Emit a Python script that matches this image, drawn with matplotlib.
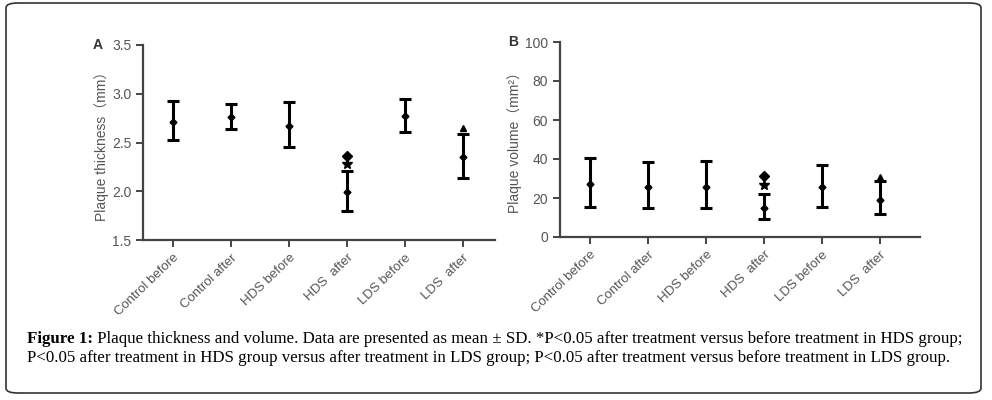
import matplotlib.pyplot as plt
from matplotlib.patches import FancyBboxPatch

groups = ["Control before", "Control after", "HDS before", "HDS  after", "LDS before", "LDS  after"]

# panel A: plaque thickness (mm)
thick_mean = [2.71, 2.76, 2.67, 1.99, 2.77, 2.35]
thick_up = [2.93, 2.90, 2.92, 2.21, 2.95, 2.59]
thick_low = [2.53, 2.64, 2.45, 1.80, 2.61, 2.14]
thick_ticks = [1.5, 2.0, 2.5, 3.0, 3.5]

# panel B: plaque volume (mm2)
vol_mean = [27.0, 25.6, 25.8, 15.0, 25.4, 18.8]
vol_up = [40.5, 38.3, 39.2, 22.0, 36.9, 28.9]
vol_low = [15.2, 14.7, 14.7, 9.2, 15.6, 12.0]
vol_ticks = [0, 20, 40, 60, 80, 100]

# significance marks (group index, y value, marker)
thick_sig = [(3, 2.365, "D"), (3, 2.275, "*"), (5, 2.645, "^")]
vol_sig = [(3, 31.5, "D"), (3, 26.7, "*"), (5, 30.8, "^")]

sans = ["Liberation Sans", "Noto Sans CJK SC"]
tick_col = "#555555"

fig = plt.figure(figsize=(9.92, 4.0), dpi=100)

# rounded frame around the whole figure
frame = FancyBboxPatch((6 / 992, 7 / 400), 975 / 992, 390 / 400,
                       boxstyle="round,pad=0,rounding_size=0.012",
                       transform=fig.transFigure, fill=False,
                       edgecolor="#333333", linewidth=1.2)
fig.patches.append(frame)


def draw_panel(ax, mean, up, low, ticks, sig, ylabel, letter, xright):
    x = list(range(len(groups)))
    yerr = [[m - l for m, l in zip(mean, low)], [u - m for u, m in zip(up, mean)]]
    ax.errorbar(x, mean, yerr=yerr, fmt="D", color="black", markersize=3.5,
                elinewidth=2.2, capsize=4.5, capthick=2.2)
    for i, y, mk in sig:
        size = 7 if mk == "*" else 5
        ax.plot(i, y, marker=mk, color="black", markersize=size, linestyle="none")
    ax.set_xlim(-0.52, xright)
    ax.set_ylim(ticks[0], ticks[-1])
    ax.set_yticks(ticks)
    ax.set_xticks(x)
    ax.set_xticklabels(groups, rotation=44, ha="right", rotation_mode="anchor",
                       family=sans, fontsize=9.5, color=tick_col)
    for lab in ax.get_yticklabels():
        lab.set_family(sans)
        lab.set_fontsize(10)
        lab.set_color(tick_col)
    ax.spines["top"].set_visible(False)
    ax.spines["right"].set_visible(False)
    ax.spines["left"].set_linewidth(1.6)
    ax.spines["bottom"].set_linewidth(1.6)
    ax.spines["left"].set_color("#444444")
    ax.spines["bottom"].set_color("#444444")
    ax.tick_params(direction="out", length=5, width=1.4, color="#444444")
    ax.set_ylabel(ylabel, family=sans, fontsize=10, color=tick_col, labelpad=2)
    ax.text(-0.13, 1.0, letter, transform=ax.transAxes, ha="center", va="center",
            family=sans, fontsize=10, color="#333333", fontweight="bold")


axA = fig.add_axes([143 / 992, 1 - 240 / 400, 352 / 992, 195 / 400])
draw_panel(axA, thick_mean, thick_up, thick_low, thick_ticks, thick_sig,
           "Plaque thickness（mm）", "A", 5.55)

axB = fig.add_axes([560 / 992, 1 - 237 / 400, 360 / 992, 195 / 400])
draw_panel(axB, vol_mean, vol_up, vol_low, vol_ticks, vol_sig,
           "Plaque volume（mm²）", "B", 5.69)

# caption
serif = "Liberation Serif"
line1 = ("Plaque thickness and volume. Data are presented as mean ± SD. *P<0.05 after treatment "
         "versus before treatment in HDS group;")
line2 = ("P<0.05 after treatment in HDS group versus after treatment in LDS group; P<0.05 after "
         "treatment versus before treatment in LDS group.")
t = fig.text(27 / 992, 1 - 339 / 400, "Figure 1:", family=serif, fontweight="bold",
             fontsize=12.2, va="center", ha="left")
fig.add_artist(plt.Annotation(" " + line1, xy=(1, 0.5), xycoords=t, va="center", ha="left",
                              family=serif, fontsize=12.2, annotation_clip=False))
fig.text(27 / 992, 1 - 358 / 400, line2, family=serif, fontsize=12.2, va="center", ha="left")

fig.savefig("out.png", dpi=100)
